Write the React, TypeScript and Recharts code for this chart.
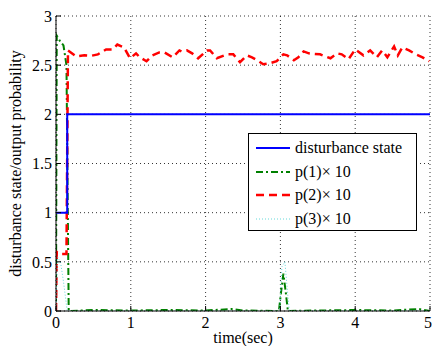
import React from 'react';
import { LineChart, Line, XAxis, YAxis, CartesianGrid } from 'recharts';

const xTicks = [0, 1, 2, 3, 4, 5];
const yTicks = [0, 0.5, 1, 1.5, 2, 2.5, 3];

const stateTimes = [0, 0.15, 0.15, 5];
const stateValues = [1, 1, 2, 2];

const p1Times = [0, 0.01, 0.05, 0.1, 0.14, 0.17, 0.5, 1.0, 1.5, 2.0, 2.35, 2.5, 2.98, 3.01, 3.04, 3.07, 3.1, 3.5, 4.0, 4.5, 4.85, 5];
const p1Values = [0, 2.8, 2.75, 2.7, 2.5, 0, 0.01, 0.005, 0.01, 0.005, 0.02, 0.005, 0, 0.2, 0.38, 0.2, 0, 0.005, 0.01, 0.005, 0.02, 0];

const p2Times = [0, 0.01, 0.05, 0.14, 0.16, 0.27, 0.38, 0.47, 0.56, 0.67, 0.76, 0.82, 0.91, 0.99, 1.07, 1.12, 1.21, 1.29, 1.38, 1.45, 1.56, 1.65, 1.68, 1.75, 1.82, 1.9, 2.02, 2.06, 2.15, 2.29, 2.37, 2.46, 2.55, 2.62, 2.69, 2.77, 2.86, 2.95, 3.04, 3.09, 3.18, 3.24, 3.31, 3.38, 3.53, 3.67, 3.76, 3.82, 3.91, 4.0, 4.11, 4.2, 4.29, 4.36, 4.43, 4.52, 4.57, 4.63, 4.72, 4.81, 4.9, 4.99];
const p2Values = [0, 0.6, 0.58, 0.58, 2.65, 2.59, 2.6, 2.595, 2.61, 2.66, 2.66, 2.71, 2.68, 2.57, 2.62, 2.58, 2.54, 2.6, 2.63, 2.63, 2.58, 2.65, 2.64, 2.65, 2.62, 2.57, 2.65, 2.65, 2.57, 2.61, 2.61, 2.53, 2.6, 2.58, 2.55, 2.51, 2.52, 2.54, 2.61, 2.6, 2.55, 2.58, 2.64, 2.62, 2.61, 2.57, 2.62, 2.61, 2.56, 2.66, 2.6, 2.65, 2.58, 2.65, 2.58, 2.69, 2.6, 2.68, 2.65, 2.61, 2.58, 2.54];

const p3Times = [0, 0.02, 0.06, 0.1, 0.15, 2.99, 3.02, 3.06, 3.1, 3.12, 5];
const p3Values = [0, 0.55, 0.5, 0.3, 0, 0, 0.45, 0.5, 0.15, 0, 0];

const zip = (t: number[], v: number[]) => t.map((x, i) => ({ t: x, v: v[i] }));

const series = [
  { name: 'disturbance state', data: zip(stateTimes, stateValues), color: '#0000ff', width: 2, dash: undefined as string | undefined },
  { name: 'p(1)\u00d7 10', data: zip(p1Times, p1Values), color: '#008000', width: 2, dash: '7 3 2 3' },
  { name: 'p(2)\u00d7 10', data: zip(p2Times, p2Values), color: '#ff0000', width: 2.5, dash: '8 5' },
  { name: 'p(3)\u00d7 10', data: zip(p3Times, p3Values), color: '#66d9d9', width: 1, dash: '1 2' },
];

const FONT = "'Liberation Serif', 'Times New Roman', serif";

const YLabel = (props: any) => {
  const vb = props.viewBox || { x: 0, y: 16, height: 295 };
  const cx = 21;
  const cy = vb.y + vb.height / 2;
  return (
    <text x={0} y={0} transform={`translate(${cx}, ${cy}) rotate(-90)`} textAnchor="middle" fontFamily={FONT} fontSize={16} fill="#000">
      disturbance state/output probability
    </text>
  );
};

export default function App() {
  const tickStyle = { fontFamily: FONT, fontSize: 16, fill: '#000' };
  return (
    <div style={{ position: 'absolute', left: 0, top: 0, width: 432, height: 346, background: '#fff' }}>
      <LineChart width={432} height={346} margin={{ top: 16, right: 2, bottom: 0, left: 0 }}>
        <CartesianGrid stroke="#000" strokeDasharray="1 3" strokeWidth={0.8} />
        <XAxis xAxisId={0} dataKey="t" type="number" domain={[0, 5]} ticks={xTicks} allowDataOverflow
          height={35} stroke="#000" tick={tickStyle} tickSize={-5} tickMargin={11}
          label={{ value: 'time(sec)', position: 'insideBottom', offset: 3, style: { fontFamily: FONT, fontSize: 16, fill: '#000' } }} />
        <XAxis xAxisId="top" orientation="top" dataKey="t" type="number" domain={[0, 5]} ticks={xTicks} allowDataOverflow
          height={0} stroke="#000" tick={false} tickSize={-5} />
        <YAxis yAxisId={0} type="number" domain={[0, 3]} ticks={yTicks} allowDataOverflow width={56}
          stroke="#000" tick={tickStyle} tickSize={-5} tickMargin={9} label={<YLabel />} />
        <YAxis yAxisId="right" orientation="right" type="number" domain={[0, 3]} ticks={yTicks} allowDataOverflow width={0}
          stroke="#000" tick={false} tickSize={-5} />
        <Line xAxisId="top" yAxisId="right" data={series[0].data} dataKey="v" stroke="none" dot={false} activeDot={false} isAnimationActive={false} legendType="none" />
        {[1, 2, 3, 0].map((i) => {
          const s = series[i];
          return (
            <Line key={s.name} xAxisId={0} yAxisId={0} data={s.data} dataKey="v" name={s.name} type="linear"
              stroke={s.color} strokeWidth={s.width} strokeDasharray={s.dash} dot={false} activeDot={false} isAnimationActive={false} />
          );
        })}
      </LineChart>
      <div style={{ position: 'absolute', left: 248, top: 133, width: 167, height: 96, border: '1px solid #000', background: '#fff', fontFamily: FONT, fontSize: 16, color: '#000' }}>
        {series.map((s, i) => (
          <div key={s.name} style={{ position: 'absolute', left: 6, top: 3 + i * 23.7, height: 22, display: 'flex', alignItems: 'center' }}>
            <svg width={36} height={6} style={{ marginRight: 4 }}>
              <line x1={1} y1={3} x2={35} y2={3} stroke={s.color} strokeWidth={s.width} strokeDasharray={s.dash} />
            </svg>
            <span style={{ whiteSpace: 'nowrap' }}>{s.name}</span>
          </div>
        ))}
      </div>
    </div>
  );
}
